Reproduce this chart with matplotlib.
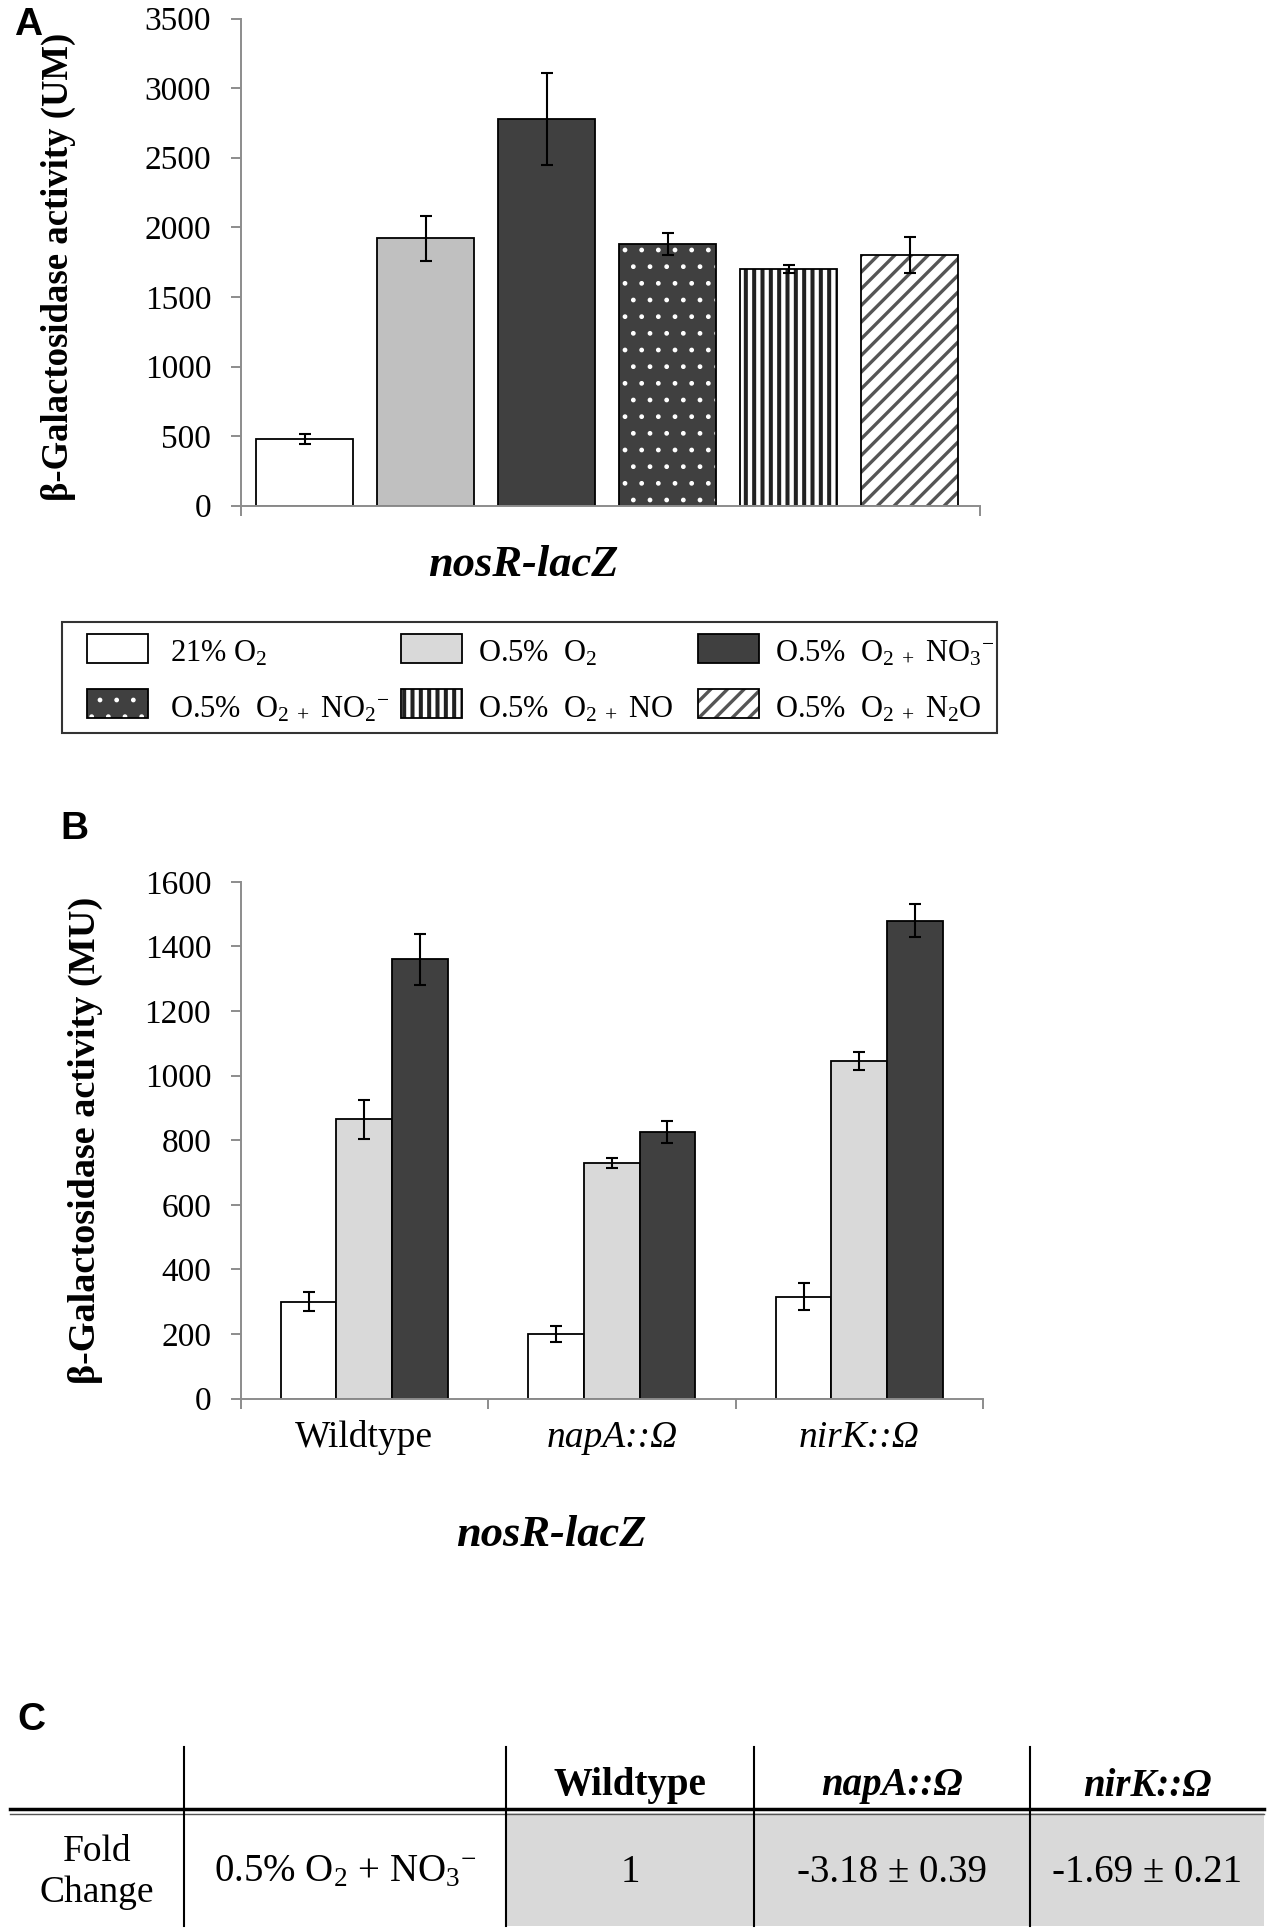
import matplotlib
matplotlib.use("Agg")
import matplotlib.pyplot as plt
from matplotlib.patches import Rectangle
import numpy as np

plt.rcParams['font.family'] = ['Liberation Serif', 'DejaVu Serif']
plt.rcParams['mathtext.fontset'] = 'custom'
plt.rcParams['mathtext.rm'] = 'Liberation Serif'
plt.rcParams['mathtext.it'] = 'Liberation Serif:italic'
plt.rcParams['mathtext.bf'] = 'Liberation Serif:bold'

# ---- data ----
cond_labels = ['21% O$_2$', 'O.5%  O$_2$', r'O.5%  O$_{2\ +}$ NO$_3{}^{-}$',
               r'O.5%  O$_{2\ +}$ NO$_2{}^{-}$', r'O.5%  O$_{2\ +}$ NO', r'O.5%  O$_{2\ +}$ N$_2$O']
a_vals = [480, 1920, 2780, 1880, 1700, 1800]
a_err = [35, 160, 330, 80, 30, 130]

strains = ['Wildtype', 'napA::Ω', 'nirK::Ω']
b_o2_21 = [300, 200, 315]
b_o2_21_err = [30, 25, 42]
b_o2_05 = [865, 730, 1045]
b_o2_05_err = [60, 15, 28]
b_no3 = [1360, 825, 1480]
b_no3_err = [78, 35, 52]

tbl_header = ['', '', 'Wildtype', 'napA::Ω', 'nirK::Ω']
tbl_row = ['Fold\nChange', '0.5% O$_2$ + NO$_3{}^{-}$', '1', '-3.18 ± 0.39', '-1.69 ± 0.21']

W, H = 1269, 1928
fig = plt.figure(figsize=(W / 100, H / 100), dpi=100)

AXC = '#8c8c8c'
# bar styles: face, hatch, hatch colour, hatch linewidth
styles = [
    dict(fc='white', hatch=None, hc=None, hlw=1),
    dict(fc='#c0c0c0', hatch=None, hc=None, hlw=1),
    dict(fc='#404040', hatch=None, hc=None, hlw=1),
    dict(fc='#404040', hatch='.', hc='white', hlw=1.0),
    dict(fc='white', hatch='||', hc='#222222', hlw=2.9),
    dict(fc='white', hatch='//', hc='#555555', hlw=2.4),
]


def styled_bar(ax, x, h, w, st):
    with plt.rc_context({'hatch.linewidth': st['hlw']}):
        if st['hatch']:
            ax.bar(x, h, w, color=st['fc'], hatch=st['hatch'], edgecolor=st['hc'], linewidth=0)
        else:
            ax.bar(x, h, w, color=st['fc'], linewidth=0)
    ax.bar(x, h, w, fill=False, edgecolor='black', linewidth=1.3)


def style_axes(ax):
    for s in ['top', 'right']:
        ax.spines[s].set_visible(False)
    for s in ['left', 'bottom']:
        ax.spines[s].set_color(AXC)
        ax.spines[s].set_linewidth(1.4)
    ax.tick_params(axis='y', labelsize=24, color=AXC, length=7.2, width=1.4, pad=14, direction='out')
    ax.tick_params(axis='x', color=AXC, length=7, width=1.4, direction='out')


# ---- panel A ----
axA = fig.add_axes([0.1896, 0.7377, 0.5826, 0.2527])
xa = np.arange(len(a_vals))
for i in range(len(a_vals)):
    styled_bar(axA, xa[i], a_vals[i], 0.8, styles[i])
axA.errorbar(xa, a_vals, yerr=a_err, fmt='none', ecolor='black', elinewidth=1.5, capsize=4, capthick=1.5)
axA.set_ylim(0, 3500)
axA.set_yticks(range(0, 3501, 500))
axA.set_xlim(-0.53, 5.58)
axA.set_xticks([-0.53, 5.58])
axA.set_xticklabels(['', ''])
style_axes(axA)
axA.set_ylabel('β-Galactosidase activity (UM)', fontsize=26.5, fontweight='bold')
axA.yaxis.set_label_coords(-0.222, 0.49)
fig.text(523 / W, 1 - 565 / H, 'nosR-lacZ', fontsize=32, fontweight='bold', style='italic', ha='center', va='center')

# ---- panel B ----
axB = fig.add_axes([0.1896, 0.2746, 0.585, 0.268])
xb = np.arange(len(strains))
bw = 0.225
series = [(b_o2_21, b_o2_21_err, 'white'), (b_o2_05, b_o2_05_err, '#d9d9d9'), (b_no3, b_no3_err, '#404040')]
for k, (vals, errs, col) in enumerate(series):
    pos = xb + (k - 1) * bw
    axB.bar(pos, vals, bw, color=col, edgecolor='black', linewidth=1.3)
    axB.errorbar(pos, vals, yerr=errs, fmt='none', ecolor='black', elinewidth=1.5, capsize=4, capthick=1.5)
axB.set_ylim(0, 1600)
axB.set_yticks(range(0, 1601, 200))
axB.set_xlim(-0.5, 2.5)
axB.set_xticks(np.arange(-0.5, 2.6, 1.0))
axB.set_xticklabels([])
style_axes(axB)
for i, s in enumerate(strains):
    axB.text(xb[i], -0.076, s, transform=axB.get_xaxis_transform(), fontsize=27,
             style='normal' if i == 0 else 'italic', ha='center', va='center')
axB.set_ylabel('β-Galactosidase activity (MU)', fontsize=27.5, fontweight='bold')
axB.yaxis.set_label_coords(-0.185, 0.5)
fig.text(551 / W, 1 - 1535 / H, 'nosR-lacZ', fontsize=32, fontweight='bold', style='italic', ha='center', va='center')

# ---- overlay in pixel units: legend box and table ----
axT = fig.add_axes([0, 0, 1, 1])
axT.set_xlim(0, W)
axT.set_ylim(H, 0)
axT.axis('off')
axT.patch.set_alpha(0)

# legend (drawn by hand so the hatched keys keep their outlines)
axT.add_patch(Rectangle((62, 622), 935, 111, facecolor='white', edgecolor='#333333', lw=1.5))
key_x = [87, 401, 698]
key_y = [634, 689]
txt_x = [170, 478, 775]
txt_y = [662, 717]
for i, st in enumerate(styles):
    r, c = divmod(i, 3)
    face = '#d9d9d9' if st['fc'] == '#c0c0c0' else st['fc']
    with plt.rc_context({'hatch.linewidth': st['hlw']}):
        if st['hatch']:
            axT.add_patch(Rectangle((key_x[c], key_y[r]), 61, 29, facecolor=face,
                                    edgecolor=st['hc'], hatch=st['hatch'], lw=0))
        else:
            axT.add_patch(Rectangle((key_x[c], key_y[r]), 61, 29, facecolor=face, lw=0))
    axT.add_patch(Rectangle((key_x[c], key_y[r]), 61, 29, fill=False, edgecolor='black', lw=1.3))
    axT.text(txt_x[c], txt_y[r], cond_labels[i], fontsize=22, ha='left', va='baseline')

# table
col_edges = [10, 184, 506, 754, 1030, 1264]
y_top, y_mid, y_bot = 1747, 1811, 1926
axT.add_patch(Rectangle((col_edges[2], y_mid + 2), col_edges[5] - col_edges[2], y_bot - y_mid - 2,
                        facecolor='#d9d9d9', edgecolor='none'))
axT.plot([col_edges[0], col_edges[5]], [y_mid - 2, y_mid - 2], color='black', lw=2.5)
axT.plot([col_edges[0], col_edges[5]], [y_mid + 2.5, y_mid + 2.5], color='#555555', lw=1)
for xe in col_edges[1:5]:
    axT.plot([xe, xe], [y_top, y_bot], color='black', lw=1.5)
centers = [(col_edges[i] + col_edges[i + 1]) / 2 for i in range(5)]
for i, t in enumerate(tbl_header):
    if t:
        axT.text(centers[i], 1786, t, fontsize=28, fontweight='bold',
                 style='normal' if i == 2 else 'italic', ha='center', va='center')
for i, t in enumerate(tbl_row):
    axT.text(centers[i], 1872, t, fontsize=28 if i != 0 else 27, ha='center', va='center', linespacing=1.25)

# panel letters
for lab, (px, py) in zip('ABC', [(28, 25), (74, 829), (31, 1720)]):
    fig.text(px / W, 1 - py / H, lab, fontsize=28, fontweight='bold', family='Liberation Sans',
             ha='center', va='center')

fig.savefig('out.png', dpi=100)
